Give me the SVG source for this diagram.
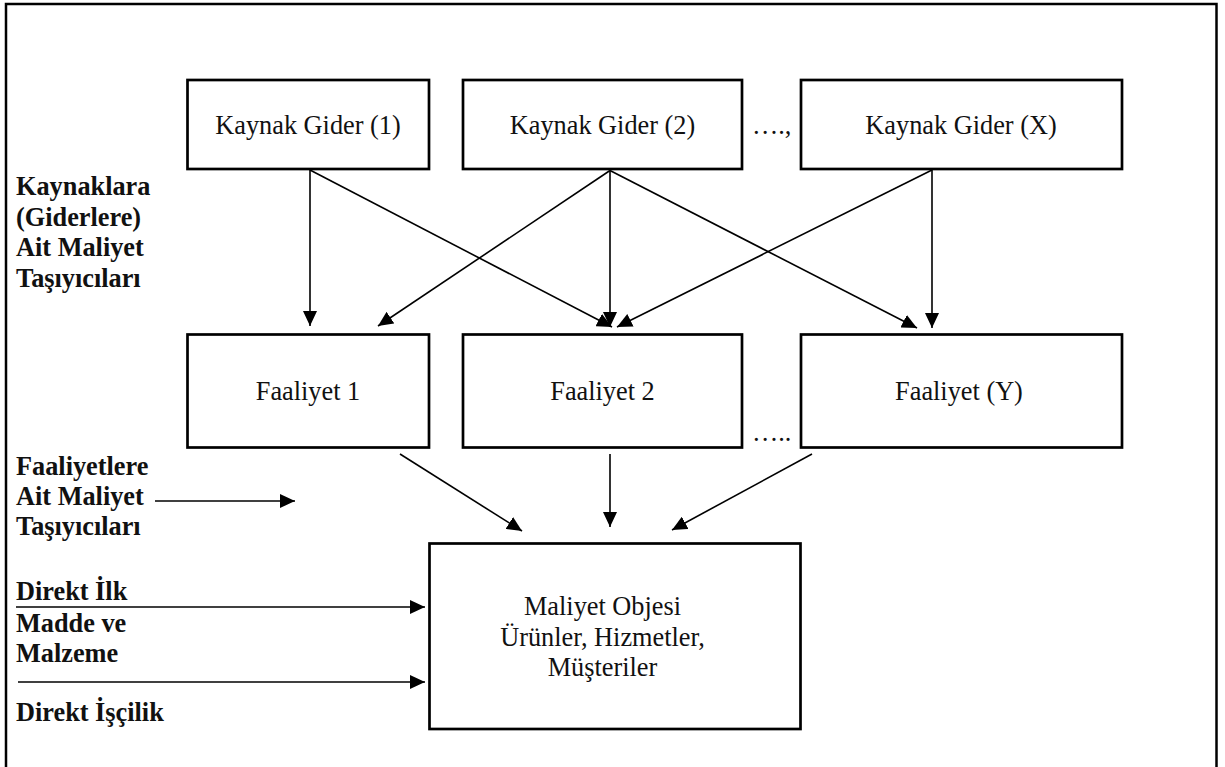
<svg xmlns="http://www.w3.org/2000/svg" width="1225" height="767" viewBox="0 0 1225 767">
  <style>
    .frame { fill: none; stroke: #000; stroke-width: 2.5; }
    .box { fill: #fff; stroke: #000; stroke-width: 2.7; }
    .label { font-family: "Liberation Serif", "Times New Roman", serif; font-size: 26.3px; fill: #111; }
    .center { text-anchor: middle; }
    .side { font-family: "Liberation Serif", "Times New Roman", serif; font-size: 26.3px; font-weight: bold; fill: #111; }
    .conn { stroke: #000; stroke-width: 1.6; fill: none; marker-end: url(#arrow); }
  </style>
  <defs>
    <marker id="arrow" markerUnits="userSpaceOnUse" viewBox="0 0 15 14" refX="15" refY="7" markerWidth="15" markerHeight="14" orient="auto">
      <path d="M0,0 L15,7 L0,14 z" fill="#000"/>
    </marker>
  </defs>

  <rect width="1225" height="767" fill="#fff"/>
  <!-- outer border, open at the bottom edge -->
  <rect class="frame" x="6" y="4" width="1210.5" height="780"/>

  <!-- resource row -->
  <g id="kaynak-gider-1">
    <rect class="box" x="187.5" y="80" width="241.5" height="89"/>
    <text class="label center" x="308" y="134">Kaynak Gider (1)</text>
  </g>
  <g id="kaynak-gider-2">
    <rect class="box" x="463" y="80" width="279" height="89"/>
    <text class="label center" x="602.5" y="134">Kaynak Gider (2)</text>
  </g>
  <text class="label" x="752" y="134">….,</text>
  <g id="kaynak-gider-x">
    <rect class="box" x="801" y="80" width="321" height="89"/>
    <text class="label center" x="961" y="134">Kaynak Gider (X)</text>
  </g>

  <!-- activity row -->
  <g id="faaliyet-1">
    <rect class="box" x="187.5" y="334.5" width="241.5" height="113"/>
    <text class="label center" x="308" y="400">Faaliyet 1</text>
  </g>
  <g id="faaliyet-2">
    <rect class="box" x="463" y="334.5" width="279" height="113"/>
    <text class="label center" x="602.5" y="400">Faaliyet 2</text>
  </g>
  <text class="label" x="752" y="441">…..</text>
  <g id="faaliyet-y">
    <rect class="box" x="801" y="334.5" width="321" height="113"/>
    <text class="label center" x="959" y="400">Faaliyet (Y)</text>
  </g>

  <!-- cost object -->
  <g id="maliyet-objesi">
    <rect class="box" x="429.5" y="543.5" width="371" height="185.5"/>
    <text class="label center" x="602.5" y="615">Maliyet Objesi</text>
    <text class="label center" x="602.5" y="645.5">Ürünler, Hizmetler,</text>
    <text class="label center" x="602.5" y="676">Müşteriler</text>
  </g>

  <!-- side labels -->
  <g id="kaynak-tasiyicilari">
    <text class="side" x="16" y="195">Kaynaklara</text>
    <text class="side" x="16" y="225.5">(Giderlere)</text>
    <text class="side" x="16" y="256">Ait Maliyet</text>
    <text class="side" x="16" y="286.5">Taşıyıcıları</text>
  </g>
  <g id="faaliyet-tasiyicilari">
    <text class="side" x="16" y="475">Faaliyetlere</text>
    <text class="side" x="16" y="505">Ait Maliyet</text>
    <text class="side" x="16" y="535">Taşıyıcıları</text>
  </g>
  <g id="direkt-madde">
    <text class="side" x="16" y="600">Direkt İlk</text>
    <text class="side" x="16" y="631.5">Madde ve</text>
    <text class="side" x="16" y="662">Malzeme</text>
  </g>
  <g id="direkt-iscilik">
    <text class="side" x="16" y="721">Direkt İşçilik</text>
  </g>

  <!-- connectors -->
  <g id="connectors">
    <!-- resources to activities -->
    <line class="conn" x1="310" y1="170" x2="310" y2="326"/>
    <line class="conn" x1="310" y1="170" x2="612" y2="327"/>
    <line class="conn" x1="610" y1="170.5" x2="378" y2="326"/>
    <line class="conn" x1="610" y1="170.5" x2="610" y2="327"/>
    <line class="conn" x1="610" y1="170.5" x2="917" y2="328"/>
    <line class="conn" x1="932" y1="170" x2="617" y2="327"/>
    <line class="conn" x1="932" y1="170" x2="932" y2="328"/>
    <!-- activities to cost object -->
    <line class="conn" x1="400" y1="454" x2="522" y2="531"/>
    <line class="conn" x1="610" y1="454" x2="610" y2="527"/>
    <line class="conn" x1="812" y1="454" x2="672" y2="530"/>
    <!-- side inputs -->
    <line class="conn" x1="155" y1="501" x2="295" y2="501"/>
    <line class="conn" x1="16" y1="607" x2="425" y2="607"/>
    <line class="conn" x1="18" y1="682" x2="425" y2="682"/>
  </g>
</svg>
